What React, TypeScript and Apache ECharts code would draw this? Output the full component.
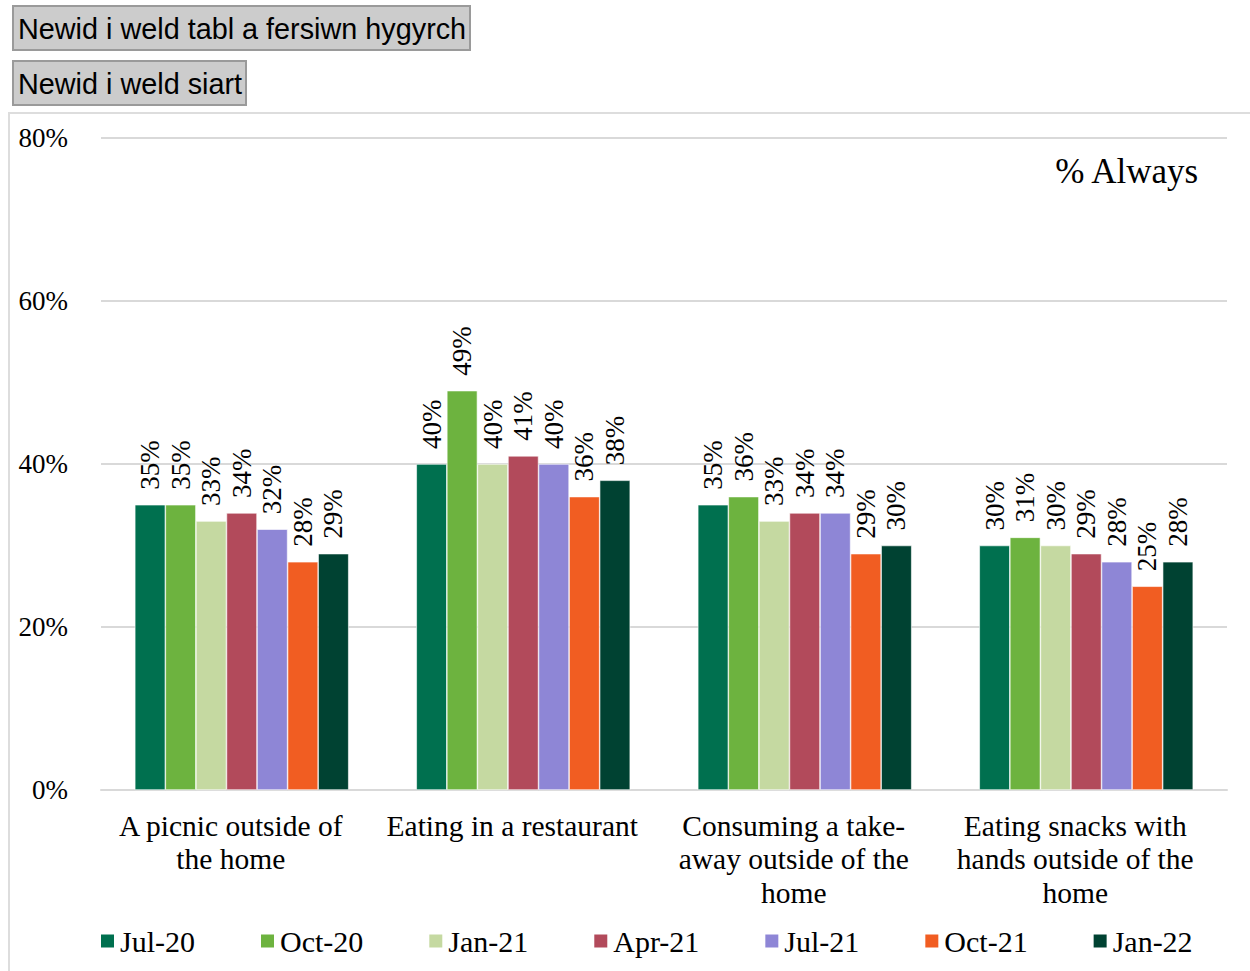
import React, { useEffect, useRef } from "react";
import * as echarts from "echarts";

const categories = [
  "A picnic outside of\nthe home",
  "Eating in a restaurant",
  "Consuming a take-\naway outside of the\nhome",
  "Eating snacks with\nhands outside of the\nhome",
];

const seriesNames = ["Jul-20", "Oct-20", "Jan-21", "Apr-21", "Jul-21", "Oct-21", "Jan-22"];
const seriesColors = ["#00704F", "#6DB33F", "#C5D9A1", "#B24A5B", "#8E86D6", "#F15D22", "#004232"];

const jul20 = [35, 40, 35, 30];
const oct20 = [35, 49, 36, 31];
const jan21 = [33, 40, 33, 30];
const apr21 = [34, 41, 34, 29];
const jul21 = [32, 40, 34, 28];
const oct21 = [28, 36, 29, 25];
const jan22 = [29, 38, 30, 28];
const seriesValues = [jul20, oct20, jan21, apr21, jul21, oct21, jan22];

const yTicks = [0, 20, 40, 60, 80];

const SERIF = "'Liberation Serif', 'Times New Roman', serif";
const SANS = "'Liberation Sans', Arial, sans-serif";

const CHART_W = 1240;
const CHART_H = 857;

function Chart() {
  const ref = useRef<HTMLDivElement>(null);
  useEffect(() => {
    if (!ref.current) return;
    const chart = echarts.init(ref.current, null, { renderer: "svg" });
    chart.setOption({
      animation: false,
      grid: { left: 91, right: CHART_W - 1217, top: 24, bottom: CHART_H - 676, containLabel: false },
      graphic: [
        {
          type: "text",
          right: 50,
          top: 40,
          style: { text: "% Always", font: `35px ${SERIF}`, fill: "#000" },
        },
      ],
      legend: {
        left: 84,
        top: 807,
        itemWidth: 15,
        itemHeight: 15,
        itemGap: 64,
        icon: "rect",
        textStyle: { fontFamily: SERIF, fontSize: 30, color: "#000", padding: [0, 0, 0, 0] },
        data: seriesNames,
      },
      xAxis: {
        type: "category",
        data: categories,
        axisLine: { show: true, lineStyle: { color: "#d9d9d9", width: 2 } },
        axisTick: { show: false },
        axisLabel: {
          interval: 0,
          fontFamily: SERIF,
          fontSize: 29.5,
          color: "#000",
          lineHeight: 33.5,
          margin: 19,
          padding: [0, 22, 0, 0],
        },
      },
      yAxis: {
        type: "value",
        min: yTicks[0],
        max: yTicks[yTicks.length - 1],
        interval: 20,
        axisLine: { show: false },
        axisTick: { show: false },
        splitLine: { lineStyle: { color: "#d9d9d9", width: 2 } },
        axisLabel: {
          formatter: "{value}%",
          fontFamily: SERIF,
          fontSize: 27,
          color: "#000",
          margin: 33,
        },
      },
      series: seriesNames.map((name, i) => ({
        name,
        type: "bar",
        data: seriesValues[i],
        barGap: "0%",
        barCategoryGap: "24%",
        itemStyle: { color: seriesColors[i], borderColor: "#ffffff", borderWidth: 0.6 },
        label: {
          show: true,
          position: "top",
          rotate: 90,
          align: "left",
          verticalAlign: "middle",
          distance: 15,
          formatter: "{c}%",
          fontFamily: SERIF,
          fontSize: 27,
          color: "#000",
        },
      })),
    });
    return () => chart.dispose();
  }, []);
  return <div ref={ref} style={{ width: CHART_W, height: CHART_H }} />;
}

const btnStyle: React.CSSProperties = {
  position: "absolute",
  left: 12,
  height: 46,
  boxSizing: "border-box",
  background: "#cccccc",
  border: "2px solid #9a9a9a",
  fontFamily: SANS,
  fontSize: 28.8,
  color: "#000",
  padding: "0 4px",
  margin: 0,
  textAlign: "left",
  whiteSpace: "nowrap",
  lineHeight: "44px",
};

export default function App() {
  return (
    <div style={{ position: "absolute", left: 0, top: 0, width: 1250, height: 971, overflow: "hidden", background: "#fff" }}>
      <button style={{ ...btnStyle, top: 5, width: 459 }}>Newid i weld tabl a fersiwn hygyrch</button>
      <button style={{ ...btnStyle, top: 60, width: 235 }}>Newid i weld siart</button>
      <div
        style={{
          position: "absolute",
          left: 8,
          top: 112,
          width: 1260,
          height: 880,
          boxSizing: "border-box",
          border: "2px solid #dddddd",
        }}
      >
        <Chart />
      </div>
    </div>
  );
}
